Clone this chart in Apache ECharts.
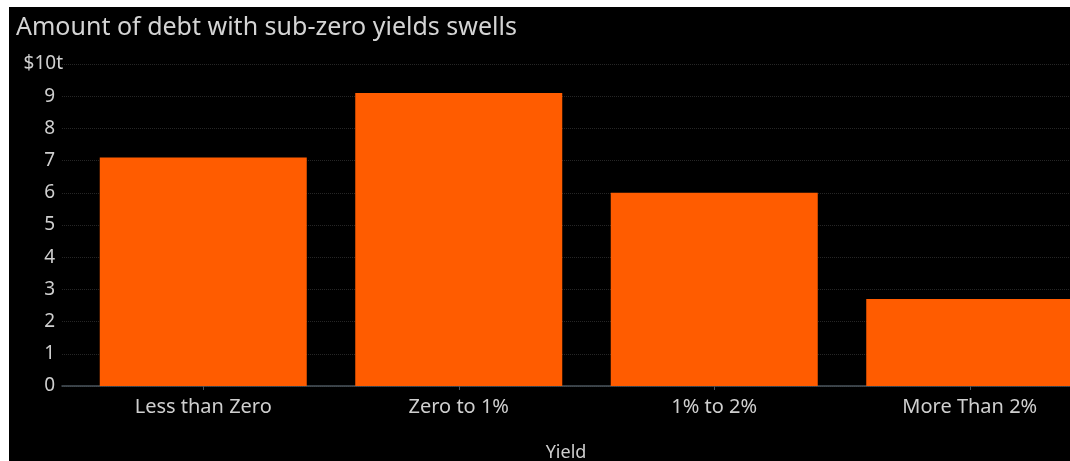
<!DOCTYPE html>
<html>
<head>
<meta charset="utf-8">
<script src="https://cdn.jsdelivr.net/npm/echarts@6/dist/echarts.min.js"></script>
<style>
  html, body { margin: 0; padding: 0; background: #ffffff; width: 1070px; height: 461px; overflow: hidden; }
  #chart { position: absolute; left: 9px; top: 7px; width: 1100px; height: 454px; background: #000000; }
</style>
</head>
<body>
<div id="chart"></div>
<script>
const titleText = 'Amount of debt with sub-zero yields swells';
const categories = ['Less than Zero', 'Zero to 1%', '1% to 2%', 'More Than 2%'];
const debtValues = [7.1, 9.1, 6.0, 2.7];
const yTicks = [0, 1, 2, 3, 4, 5, 6, 7, 8, 9, 10];
const yTopLabel = '$10t';
const xAxisName = 'Yield';

const FONT = 'Noto Sans';
const TEXT = '#cfcfcf';
const chart = echarts.init(document.getElementById('chart'), null, { renderer: 'canvas' });

const yMin = yTicks[0], yMax = yTicks[yTicks.length - 1];

chart.setOption({
  backgroundColor: '#000000',
  animation: false,
  title: {
    text: titleText,
    left: 2,
    top: 3,
    textStyle: { color: '#d4d4d4', fontFamily: FONT, fontSize: 25, fontWeight: 'normal' }
  },
  grid: [
    { left: 53, top: 57, width: 1008, height: 322, containLabel: false, outerBoundsMode: 'none' },
    { left: 66.5, top: 57, width: 1022, height: 322, containLabel: false, outerBoundsMode: 'none' }
  ],
  xAxis: [
    {
      gridIndex: 0, type: 'value', min: 0, max: 1,
      axisLine: { show: true, lineStyle: { color: '#4a545c', width: 1.5 } },
      axisTick: { show: false }, axisLabel: { show: false }, splitLine: { show: false },
      name: xAxisName, nameLocation: 'middle', nameGap: 58,
      nameTextStyle: { color: TEXT, fontFamily: FONT, fontSize: 18 }
    },
    {
      gridIndex: 1, type: 'category', data: categories,
      axisLine: { show: false },
      axisTick: { show: true, alignWithLabel: true, length: 4, lineStyle: { color: '#4a545c' } },
      axisLabel: { color: TEXT, fontFamily: FONT, fontSize: 20, margin: 11 }
    }
  ],
  yAxis: [
    {
      gridIndex: 0, type: 'value', min: yMin, max: yMax, interval: 1,
      axisLine: { show: false }, axisTick: { show: false },
      axisLabel: {
        color: TEXT, fontFamily: FONT, fontSize: 19, margin: 7,
        formatter: v => (v === yMax ? '' : String(v))
      },
      splitLine: { show: true, lineStyle: { color: '#262626', type: 'dotted', width: 1 } }
    },
    {
      gridIndex: 1, type: 'value', min: yMin, max: yMax, interval: 1,
      axisLine: { show: false }, axisTick: { show: false }, splitLine: { show: false },
      axisLabel: {
        color: TEXT, fontFamily: FONT, fontSize: 19, margin: 12.5,
        formatter: v => (v === yMax ? yTopLabel : '')
      }
    }
  ],
  series: [{
    type: 'bar',
    xAxisIndex: 1, yAxisIndex: 1,
    data: debtValues,
    barWidth: 207,
    itemStyle: { color: '#ff5c00' }
  }]
});
</script>
</body>
</html>
